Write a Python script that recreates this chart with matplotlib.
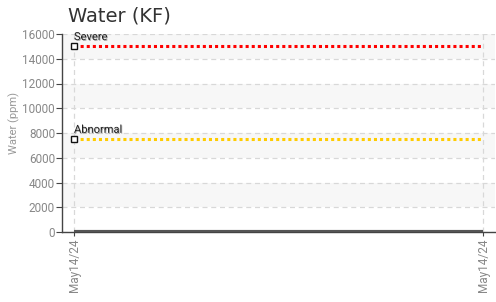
import matplotlib
matplotlib.use("Agg")
import matplotlib.pyplot as plt
import matplotlib.patheffects as pe

dates = ["May14/24", "May14/24"]
water = [0, 0]
severe = 15000
abnormal = 7500
yticks = [0, 2000, 4000, 6000, 8000, 10000, 12000, 14000, 16000]

fig = plt.figure(figsize=(4.96, 3.02), dpi=100)
ax = fig.add_axes([62/496, 1-232/302, (495-62)/496, (232-34)/302])

xs = list(range(len(dates)))
span = xs[-1] - xs[0]
m = 12/409*span
ax.set_xlim(xs[0]-m, xs[-1]+m)
ax.set_ylim(0, 16000)

# alternating bands
for i, lo in enumerate(yticks[:-1]):
    if i % 2 == 1:
        ax.axhspan(lo, lo+2000, color="#f7f7f7", zorder=0, lw=0)

ax.set_yticks(yticks)
ax.set_xticks(xs)
ax.set_xticklabels(dates, rotation=90)
ax.grid(True, color="#d8d8d8", linestyle=(0, (4, 3)), linewidth=0.9, zorder=1)

fam = ["Liberation Sans Narrow", "Roboto", "DejaVu Sans"]
for lbl in ax.get_yticklabels() + ax.get_xticklabels():
    lbl.set_family(fam)
    lbl.set_fontsize(8.5)
    lbl.set_color("#888888")
ax.tick_params(axis="y", length=4, width=0.8, color="#444444", pad=1)
ax.tick_params(axis="x", length=3, width=0.8, color="#444444", pad=2)

for s in ["top", "right"]:
    ax.spines[s].set_visible(False)
ax.spines["left"].set_color("#444444")
ax.spines["bottom"].set_color("#444444")
ax.spines["left"].set_linewidth(1.0)
ax.spines["bottom"].set_linewidth(1.0)

ax.plot(xs, water, color="#555555", linewidth=3, zorder=3, solid_capstyle="butt")

for val, col, name in [(severe, "#ff0000", "Severe"), (abnormal, "#ffcc00", "Abnormal")]:
    ax.plot([xs[0], xs[-1]], [val, val], color=col, linewidth=2.2,
            linestyle=(0, (1, 1)), zorder=3)
    ax.plot([xs[0]], [val], marker="s", markersize=4.5, markerfacecolor="white",
            markeredgecolor="#111111", markeredgewidth=1.0, zorder=4)
    ax.text(xs[0], val + 350, name, fontsize=8, color="#222222", family=fam,
            va="bottom", ha="left", zorder=5,
            path_effects=[pe.withSimplePatchShadow(offset=(0.6, -0.6), shadow_rgbFace="#999999", alpha=0.8)])

fig.text(14/496, 1-123/302, "Water (ppm)", fontsize=8, color="#999999", family=fam,
         rotation=90, ha="center", va="center")
fig.text(68/496, 1-16/302, "Water (KF)", fontsize=14, color="#333333",
         family=["DejaVu Sans"], va="center", ha="left")

fig.savefig("out.png", dpi=100)
